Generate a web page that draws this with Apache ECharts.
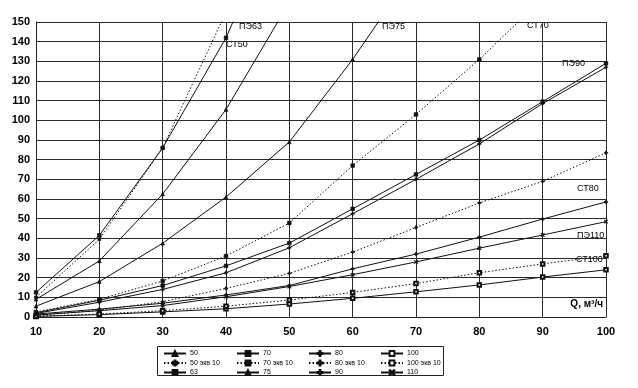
<!DOCTYPE html>
<html><head><meta charset="utf-8">
<script src="https://cdn.jsdelivr.net/npm/echarts@6/dist/echarts.min.js"></script>
<style>html,body{margin:0;padding:0;background:#fff}#c{width:638px;height:388px}</style>
</head><body><div id="c"></div>
<script>
// X values (Q, m3/h)
const xValues = [10, 20, 30, 40, 50, 60, 70, 80, 90, 100];
// Series values
const s50   = [9, 28.5, 62.5, 105.5, 160, null, null, null, null, null];
const s50e  = [10, 39.5, 86, 155, null, null, null, null, null, null];
const s63   = [12.5, 41.5, 86, 142, 215, null, null, null, null, null];
const s70   = [2.2, 8.5, 16, 26, 37.6, 55, 72.5, 90, 109.5, 129];
const s70e  = [2.5, 9, 18.3, 31, 47.8, 77, 103, 131, 162, null];
const s75   = [5.5, 18, 37.5, 61, 89, 131, 178, null, null, null];
const s80   = [1.5, 4, 7, 11.2, 16, 24.5, 32, 40.6, 49.8, 58.5];
const s80e  = [0.8, 3.5, 7.8, 14.5, 22.2, 33, 45.5, 58, 69, 83.5];
const s90   = [1.8, 7.5, 14, 22.5, 35.2, 52.5, 70, 88, 108.5, 127];
const s100  = [0.3, 1.2, 2.6, 4.2, 6.6, 9.5, 12.8, 16.3, 20.3, 24];
const s100e = [0.4, 1.5, 3.2, 5.5, 8.6, 12.5, 17, 22.5, 27, 31.2];
const s110  = [1, 3.2, 5.8, 10.3, 15.5, 21.5, 28, 35, 41.7, 48.5];
// Legend names
const names = ['50', '70', '80', '100', '50 экв 10', '70 экв 10', '80 экв 10', '100 экв 10', '63', '75', '90', '110'];
// Curve labels
const curveLabels = ['ПЭ63', 'СТ50', 'ПЭ75', 'СТ70', 'ПЭ90', 'СТ80', 'ПЭ110', 'СТ100'];
const axisTitle = 'Q, м³/ч';

const PLUS = 'path://M4,0H6V4H10V6H6V10H4V6H0V4H4Z';
const XMARK = 'path://M1,0L5,4L9,0L10,1L6,5L10,9L9,10L5,6L1,10L0,9L4,5L0,1Z';
const STAR = 'path://M4.3,0H5.7V3.6L9,2.2L9.5,3.5L6.2,5L9.5,6.5L9,7.8L5.7,6.4V10H4.3V6.4L1,7.8L0.5,6.5L3.8,5L0.5,3.5L1,2.2L4.3,3.6Z';

const seriesDefs = [
  {name: names[0], data: s50, dotted: false, symbol: 'triangle'},
  {name: names[1], data: s70, dotted: false, symbol: 'rect'},
  {name: names[2], data: s80, dotted: false, symbol: PLUS},
  {name: names[3], data: s100, dotted: false, symbol: 'emptyRect'},
  {name: names[4], data: s50e, dotted: true, symbol: STAR},
  {name: names[5], data: s70e, dotted: true, symbol: 'rect'},
  {name: names[6], data: s80e, dotted: true, symbol: PLUS},
  {name: names[7], data: s100e, dotted: true, symbol: 'emptyRect'},
  {name: names[8], data: s63, dotted: false, symbol: 'rect'},
  {name: names[9], data: s75, dotted: false, symbol: 'triangle'},
  {name: names[10], data: s90, dotted: false, symbol: PLUS},
  {name: names[11], data: s110, dotted: false, symbol: XMARK}
];

const series = seriesDefs.map(d => ({
  name: d.name,
  type: 'line',
  clip: true,
  data: xValues.map((x, i) => [x, d.data[i]]).filter(p => p[1] !== null),
  symbol: d.symbol,
  symbolSize: 3.5,
  lineStyle: {color: '#111', width: 1, type: d.dotted ? [1.5, 2] : 'solid'},
  itemStyle: {color: '#111', borderColor: '#111', borderWidth: 0.8},
  emphasis: {disabled: true},
  animation: false
}));

const font = 'Liberation Sans, Arial, sans-serif';
const legendCols = [[0, 4, 8], [1, 5, 9], [2, 6, 10], [3, 7, 11]];
const legendLefts = [163, 236, 308, 380];
const legends = legendCols.map((col, k) => ({
  orient: 'vertical',
  left: legendLefts[k],
  top: 350,
  padding: 0,
  itemGap: 2.5,
  itemWidth: 22,
  itemHeight: 6,
  selectedMode: false,
  data: col.map(i => names[i]),
  textStyle: {fontSize: 7, color: '#000', fontFamily: font, padding: [0, 0, 0, -1]}
}));

const labelPos = [
  [239, 27], [226, 45], [382, 27], [527, 26], [562, 64], [577, 189], [577, 236], [576, 260]
];
const graphics = curveLabels.map((t, i) => ({
  type: 'text', left: labelPos[i][0], top: labelPos[i][1] - 5,
  style: {text: t, font: '9px ' + font, fill: '#000'}
}));
graphics.push({type: 'text', right: 35, top: 299, style: {text: axisTitle, font: 'bold 10px ' + font, fill: '#000'}});
graphics.push({type: 'rect', shape: {x: 157.5, y: 346.5, width: 286, height: 29}, style: {fill: 'none', stroke: '#222', lineWidth: 1}});

const chart = echarts.init(document.getElementById('c'), null, {renderer: 'canvas'});
chart.setOption({
  backgroundColor: '#fff',
  animation: false,
  grid: {left: 36, right: 32, top: 22, bottom: 71, containLabel: false},
  xAxis: {
    type: 'value', min: 10, max: 100, interval: 10,
    axisLine: {show: true, lineStyle: {color: '#222', width: 1}},
    axisTick: {show: false},
    splitLine: {show: true, lineStyle: {color: '#2a2a2a', width: 1}},
    axisLabel: {fontSize: 11, fontWeight: 'bold', color: '#000', fontFamily: font, margin: 9}
  },
  yAxis: {
    type: 'value', min: 0, max: 150, interval: 10,
    axisLine: {show: true, lineStyle: {color: '#222', width: 1}},
    axisTick: {show: false},
    splitLine: {show: true, lineStyle: {color: '#2a2a2a', width: 1}},
    axisLabel: {fontSize: 11, fontWeight: 'bold', color: '#000', fontFamily: font, margin: 6}
  },
  legend: legends,
  graphic: graphics,
  series: series
});
</script>
</body></html>
